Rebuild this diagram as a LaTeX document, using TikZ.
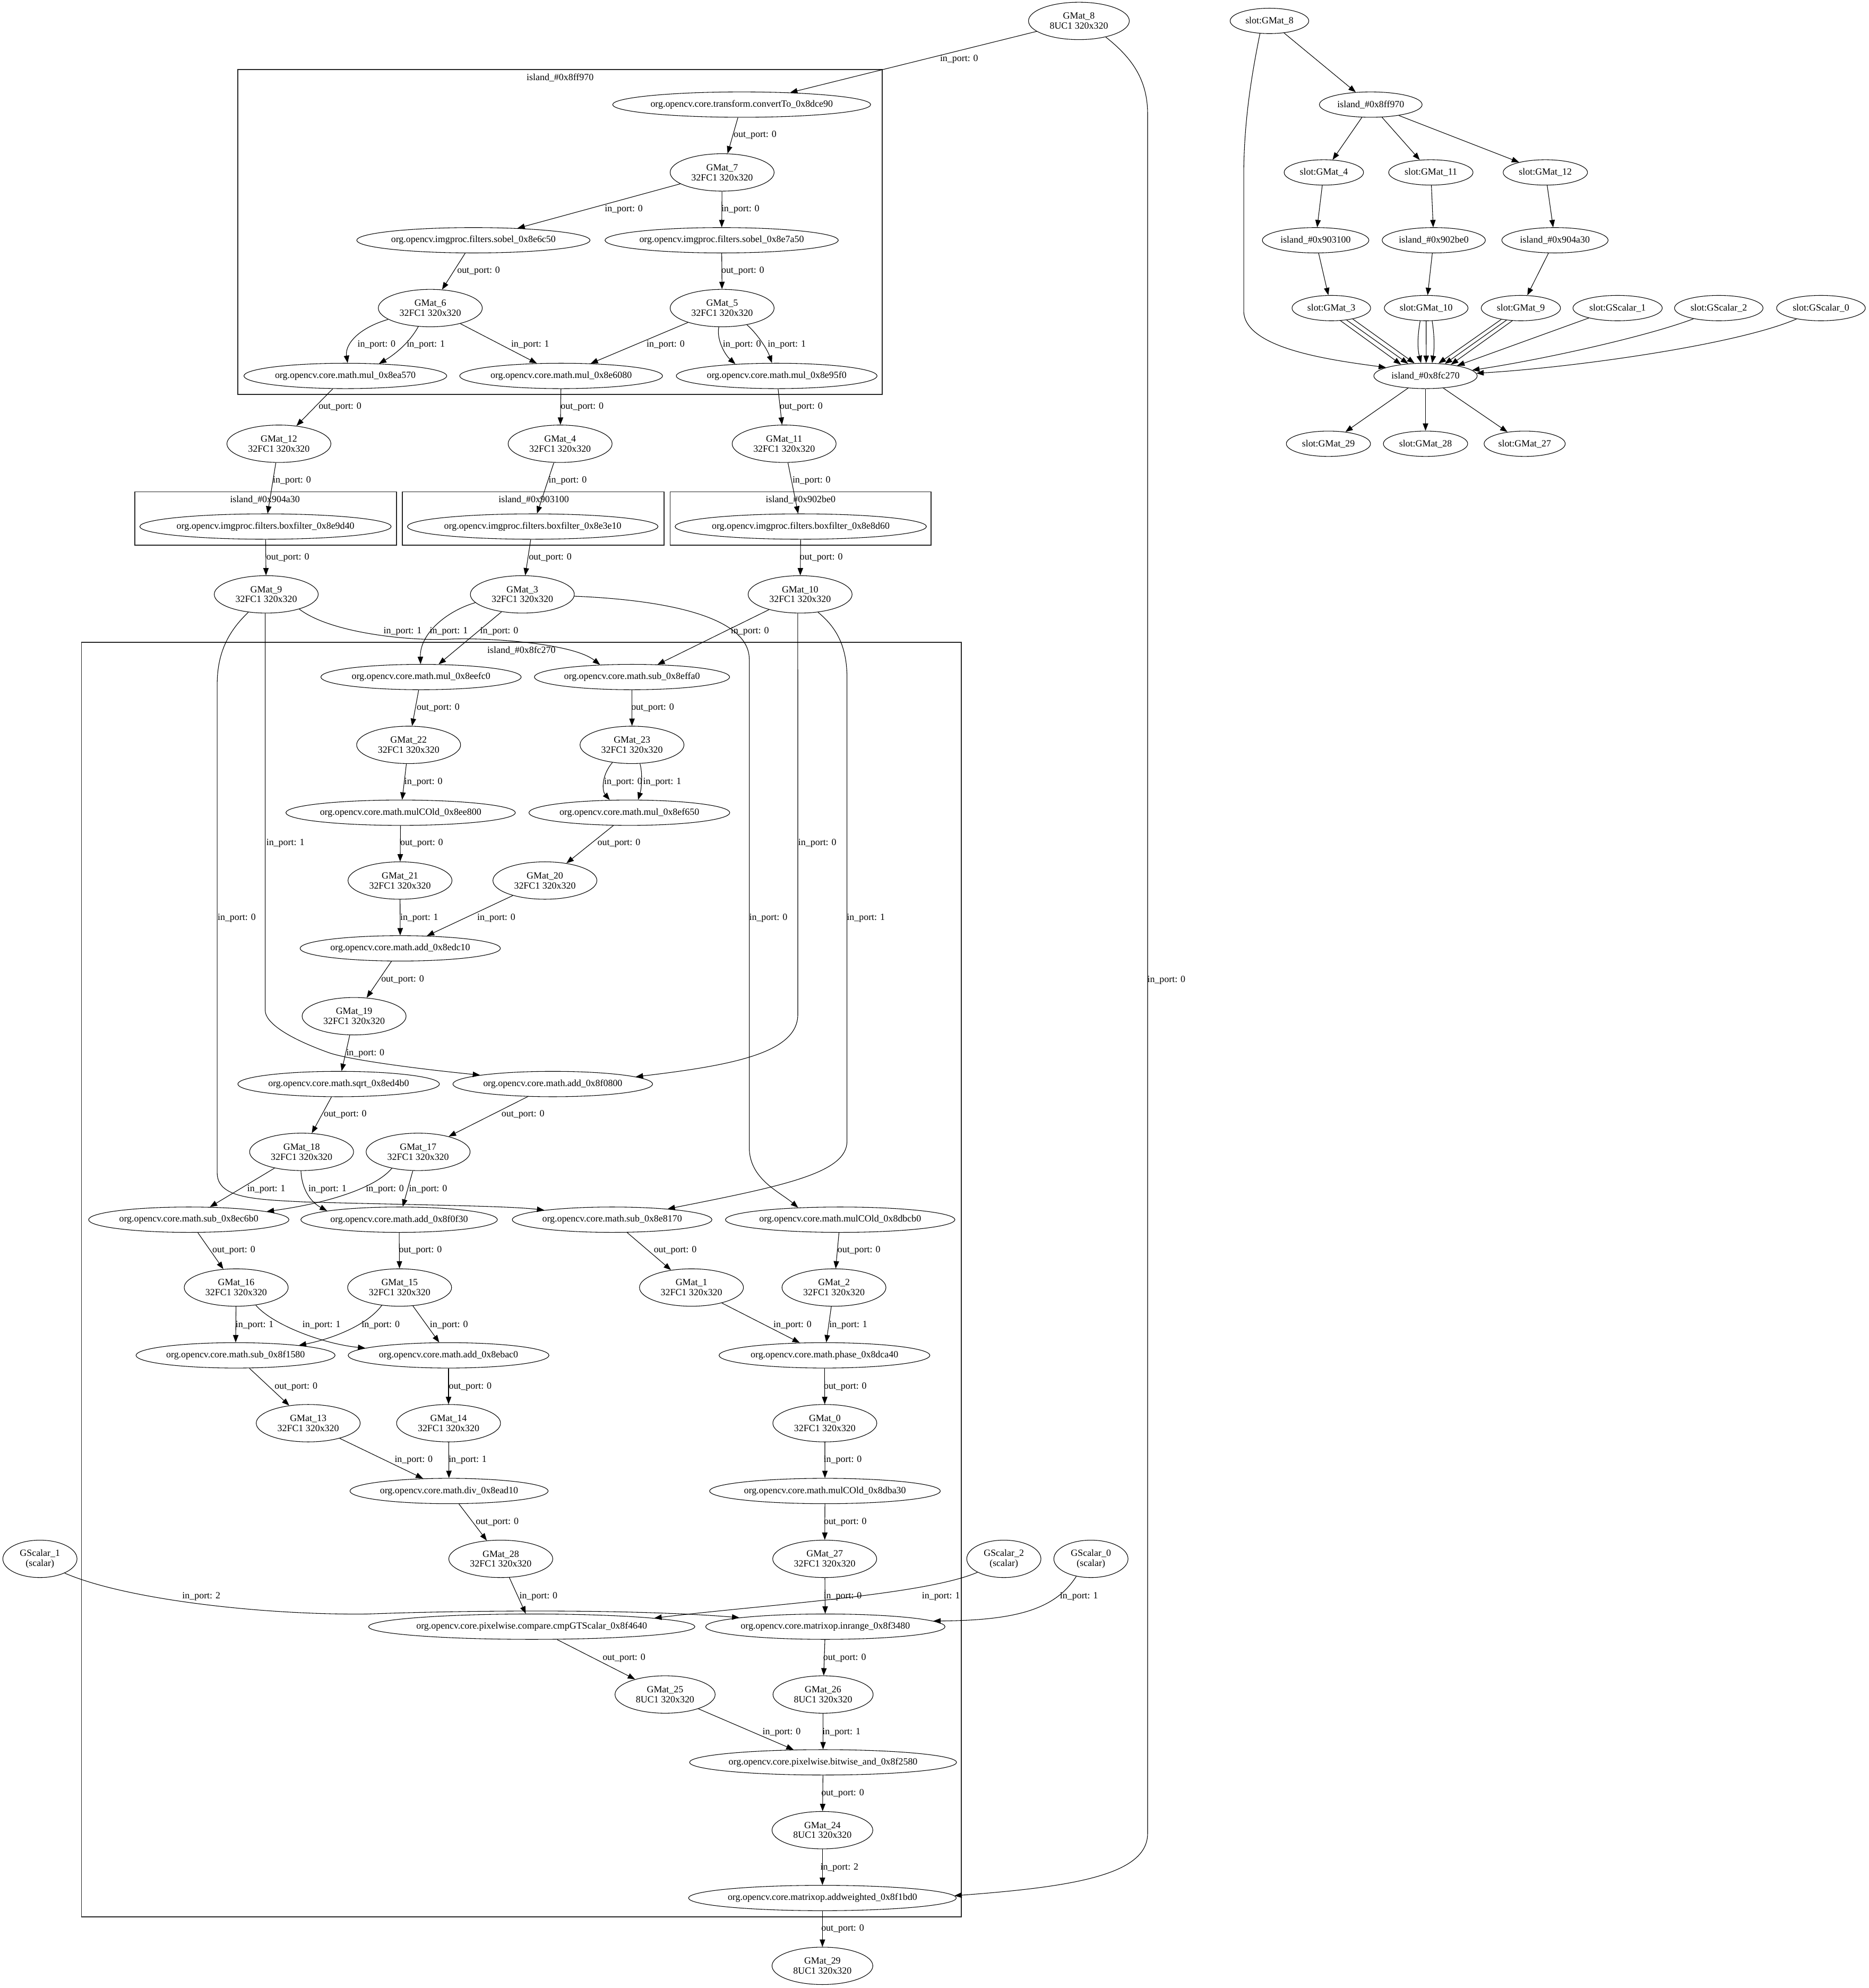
\documentclass[tikz,border=0pt]{standalone}
\usepackage{fontspec}
\setmainfont{Liberation Serif}
\usetikzlibrary{shapes.geometric,arrows.meta}
\newcommand{\myin}[1]{in\_port: #1}
\newcommand{\myout}[1]{out\_port: #1}
\tikzset{
  nd/.style={ellipse, draw, line width=0.45pt, inner sep=0pt, align=center},
  op/.style={nd, minimum height=20pt, minimum width=#1},
  gm/.style={nd, minimum height=29.5pt, minimum width=#1},
  lb/.style={inner sep=0pt},
  ed/.style={line width=0.45pt, -{Triangle[length=5.8pt,width=4.3pt]}},
  cl/.style={draw=black!85, line width=0.75pt},
}
\begin{document}
\begin{tikzpicture}[x=1pt,y=-1pt,font=\fontsize{7.5}{7.9}\selectfont]
\useasboundingbox (0,0) rectangle (1474,1568);
% clusters
\draw[cl] (187.6,55) rectangle (695.9,311.2);
\node[lb] (c1) at (441.8,61.4) {island\_\#0x8ff970};
\draw[cl] (106.4,387.9) rectangle (312.8,429.9);
\node[lb] (c2) at (209,394.3) {island\_\#0x904a30};
\draw[cl] (317.5,387.9) rectangle (523.9,429.9);
\node[lb] (c3) at (421,394.3) {island\_\#0x903100};
\draw[cl] (528.6,387.9) rectangle (734.5,429.9);
\node[lb] (c4) at (631.5,394.3) {island\_\#0x902be0};
\draw[cl] (64.3,506.7) rectangle (758.3,1512);
\node[lb] (c5) at (411.3,513) {island\_\#0x8fc270};

% nodes left graph
\node[gm=79.5] (g8) at (851,16.5) {GMat\_8\\8UC1 320x320};
\node[op=203.5] (cvt) at (585,82.5) {org.opencv.core.transform.convertTo\_0x8dce90};
\node[gm=82] (g7) at (569.6,136) {GMat\_7\\32FC1 320x320};
\node[op=184] (sbA) at (373.4,189.5) {org.opencv.imgproc.filters.sobel\_0x8e6c50};
\node[op=184] (sbB) at (569.2,189.5) {org.opencv.imgproc.filters.sobel\_0x8e7a50};
\node[gm=82] (g6) at (339.4,243) {GMat\_6\\32FC1 320x320};
\node[gm=82] (g5) at (569.6,243) {GMat\_5\\32FC1 320x320};
\node[op=160] (mlA) at (272.4,296.5) {org.opencv.core.math.mul\_0x8ea570};
\node[op=160] (mlB) at (442.6,296.5) {org.opencv.core.math.mul\_0x8e6080};
\node[op=158.4] (mlC) at (612.6,296.5) {org.opencv.core.math.mul\_0x8e95f0};
\node[gm=82] (g12) at (220,350) {GMat\_12\\32FC1 320x320};
\node[gm=82] (g4) at (441.8,350) {GMat\_4\\32FC1 320x320};
\node[gm=82] (g11) at (618.5,350) {GMat\_11\\32FC1 320x320};
\node[op=196.6] (bxA) at (209.4,415.3) {org.opencv.imgproc.filters.boxfilter\_0x8e9d40};
\node[op=197] (bxB) at (420.2,415.3) {org.opencv.imgproc.filters.boxfilter\_0x8e3e10};
\node[op=196.5] (bxC) at (631.6,415.3) {org.opencv.imgproc.filters.boxfilter\_0x8e8d60};
\node[gm=82] (g9) at (210,468.8) {GMat\_9\\32FC1 320x320};
\node[gm=82] (g3) at (412,468.8) {GMat\_3\\32FC1 320x320};
\node[gm=82] (g10) at (631.1,468.8) {GMat\_10\\32FC1 320x320};
\node[op=158] (mlD) at (332.1,534) {org.opencv.core.math.mul\_0x8eefc0};
\node[op=154] (sbtA) at (498.5,534) {org.opencv.core.math.sub\_0x8effa0};
\node[gm=82] (g22) at (322.3,587.5) {GMat\_22\\32FC1 320x320};
\node[gm=82] (g23) at (498.5,587.5) {GMat\_23\\32FC1 320x320};
\node[op=181] (mcA) at (316,641) {org.opencv.core.math.mulCOld\_0x8ee800};
\node[op=158.4] (mlE) at (496.4,641) {org.opencv.core.math.mul\_0x8ef650};
\node[gm=82] (g21) at (315.5,694.5) {GMat\_21\\32FC1 320x320};
\node[gm=82] (g20) at (429.8,694.5) {GMat\_20\\32FC1 320x320};
\node[op=158] (adA) at (315.7,748) {org.opencv.core.math.add\_0x8edc10};
\node[gm=82] (g19) at (279.3,801.5) {GMat\_19\\32FC1 320x320};
\node[op=159] (sqr) at (267.1,855) {org.opencv.core.math.sqrt\_0x8ed4b0};
\node[op=157.5] (adB) at (436,855) {org.opencv.core.math.add\_0x8f0800};
\node[gm=82] (g18) at (237.9,908.5) {GMat\_18\\32FC1 320x320};
\node[gm=82] (g17) at (329.8,908.5) {GMat\_17\\32FC1 320x320};
\node[op=158] (sbtB) at (148.9,962) {org.opencv.core.math.sub\_0x8ec6b0};
\node[op=155] (adC) at (314.8,962) {org.opencv.core.math.add\_0x8f0f30};
\node[op=157.5] (sbtC) at (482.8,962) {org.opencv.core.math.sub\_0x8e8170};
\node[op=181] (mcB) at (662.7,962) {org.opencv.core.math.mulCOld\_0x8dbcb0};
\node[gm=82] (g16) at (186.3,1015.5) {GMat\_16\\32FC1 320x320};
\node[gm=82] (g15) at (315.2,1015.5) {GMat\_15\\32FC1 320x320};
\node[gm=82] (g1) at (545.4,1015.5) {GMat\_1\\32FC1 320x320};
\node[gm=82] (g2) at (657.8,1015.5) {GMat\_2\\32FC1 320x320};
\node[op=157] (sbtD) at (185.8,1069) {org.opencv.core.math.sub\_0x8f1580};
\node[op=158.4] (adD) at (353.8,1069) {org.opencv.core.math.add\_0x8ebac0};
\node[op=166.3] (phs) at (650.3,1069) {org.opencv.core.math.phase\_0x8dca40};
\node[gm=82] (g13) at (243.1,1122.5) {GMat\_13\\32FC1 320x320};
\node[gm=82] (g14) at (353.8,1122.5) {GMat\_14\\32FC1 320x320};
\node[gm=82] (g0) at (650.6,1122.5) {GMat\_0\\32FC1 320x320};
\node[op=156.3] (dv) at (354.2,1176) {org.opencv.core.math.div\_0x8ead10};
\node[op=182] (mcC) at (650.7,1176) {org.opencv.core.math.mulCOld\_0x8dba30};
\node[gm=82] (g28) at (395,1229.5) {GMat\_28\\32FC1 320x320};
\node[gm=82] (g27) at (650.5,1229.5) {GMat\_27\\32FC1 320x320};
\node[gm=58.5] (gs1) at (31.5,1229.5) {GScalar\_1\\(scalar)};
\node[gm=58.5] (gs2) at (791.8,1229.5) {GScalar\_2\\(scalar)};
\node[gm=58.5] (gs0) at (860.5,1229.5) {GScalar\_0\\(scalar)};
\node[op=252] (cmp) at (419.4,1283) {org.opencv.core.pixelwise.compare.cmpGTScalar\_0x8f4640};
\node[op=187.5] (inr) at (651,1283) {org.opencv.core.matrixop.inrange\_0x8f3480};
\node[gm=79] (g25) at (524.6,1336.5) {GMat\_25\\8UC1 320x320};
\node[gm=79] (g26) at (649.2,1336.5) {GMat\_26\\8UC1 320x320};
\node[op=207.6] (bnd) at (649.2,1390) {org.opencv.core.pixelwise.bitwise\_and\_0x8f2580};
\node[gm=79.5] (g24) at (648.7,1443.5) {GMat\_24\\8UC1 320x320};
\node[op=208.6] (adw) at (648.7,1497) {org.opencv.core.matrixop.addweighted\_0x8f1bd0};
\node[gm=79.5] (g29) at (648.7,1550.5) {GMat\_29\\8UC1 320x320};

% edges left graph
\draw[ed] (g8) -- (cvt);
\draw[ed] (g8.-31) .. controls (892,45) and (905.2,62) .. (905.2,90) -- (905.2,1446) .. controls (905.2,1478) and (850,1488) .. (adw.1.5);
\draw[ed] (cvt) -- (g7);
\draw[ed] (g7) -- (sbA);
\draw[ed] (g7) -- (sbB);
\draw[ed] (sbA) -- (g6);
\draw[ed] (sbB) -- (g5);
\draw[ed] (g6.-165) .. controls (282,259) and (272,272) .. (mlA.80);
\draw[ed] (g6.-123) .. controls (322,272) and (309,281) .. (mlA.20);
\draw[ed] (g6) -- (mlB);
\draw[ed] (g5) -- (mlB);
\draw[ed] (g5.-100) .. controls (565,268) and (572,280) .. (mlC.164);
\draw[ed] (g5.-34) .. controls (597,263) and (605,275) .. (mlC.110);
\draw[ed] (mlA) -- (g12);
\draw[ed] (mlB) -- (g4);
\draw[ed] (mlC) -- (g11);
\draw[ed] (g12) -- (bxA);
\draw[ed] (g4) -- (bxB);
\draw[ed] (g11) -- (bxC);
\draw[ed] (bxA) -- (g9);
\draw[ed] (bxB) -- (g3);
\draw[ed] (bxC) -- (g10);
\draw[ed] (g9.-24) .. controls (261.5,500) and (327,506) .. (357,504) .. controls (387,503) and (452,507.5) .. (sbtA.159);
\draw[ed] (g3.-170) .. controls (352,482) and (331,500) .. (mlD.92);
\draw[ed] (g3.-140) -- (mlD.36);
\draw[ed] (g10) -- (sbtA);
\draw[ed] (g9.-93) -- (209.2,797) .. controls (209.2,806) and (225,818) .. (260,830.5) .. controls (275,835.5) and (320,842) .. (adB.173.5);
\draw[ed] (g10.-97) -- (629.3,800) .. controls (629.3,830) and (580,840) .. (adB.5);
\draw[ed] (g9.-135) .. controls (180,498) and (171.3,515) .. (171.3,540) -- (171.3,925) .. controls (171.3,945) and (200,946) .. (240,948) .. controls (330,950.5) and (400,951) .. (sbtC.172);
\draw[ed] (g10.-45) .. controls (660,495) and (668.1,510) .. (668.1,535) -- (668.1,900) .. controls (668.1,925) and (620,935) .. (sbtC.11);
\draw[ed] (g3.-2) .. controls (520,473) and (591,485) .. (591,520) -- (591,905) .. controls (591,930) and (615,940) .. (mcB.164);
\draw[ed] (mlD) -- (g22);
\draw[ed] (sbtA) -- (g23);
\draw[ed] (g22) -- (mcA);
\draw[ed] (g23.-138) .. controls (474,612) and (475,624) .. (mlE.147);
\draw[ed] (g23.-67) .. controls (507,610) and (506,622) .. (mlE.56);
\draw[ed] (mcA) -- (g21);
\draw[ed] (mlE) -- (g20);
\draw[ed] (g21) -- (adA);
\draw[ed] (g20) -- (adA);
\draw[ed] (adA) -- (g19);
\draw[ed] (g19) -- (sqr);
\draw[ed] (sqr) -- (g18);
\draw[ed] (adB) -- (g17);
\draw[ed] (g18) -- (sbtB);
\draw[ed] (g18.-92) .. controls (238,938) and (245,948) .. (adC.173);
\draw[ed] (g17.-148) .. controls (298,935) and (265,948) .. (sbtB.6);
\draw[ed] (g17) -- (adC);
\draw[ed] (sbtB) -- (g16);
\draw[ed] (adC) -- (g15);
\draw[ed] (sbtC) -- (g1);
\draw[ed] (mcB) -- (g2);
\draw[ed] (g16) -- (sbtD);
\draw[ed] (g16.-42) .. controls (215,1045) and (255,1060) .. (adD.175);
\draw[ed] (g15.-135) .. controls (290,1045) and (262,1056) .. (sbtD.9);
\draw[ed] (g15) -- (adD);
\draw[ed] (g1) -- (phs);
\draw[ed] (g2) -- (phs);
\draw[ed] (sbtD) -- (g13);
\draw[ed] (adD) -- (g14);
\draw[ed] (phs) -- (g0);
\draw[ed] (g13) -- (dv);
\draw[ed] (g14) -- (dv);
\draw[ed] (g0) -- (mcC);
\draw[ed] (dv) -- (g28);
\draw[ed] (mcC) -- (g27);
\draw[ed] (gs1.-30) .. controls (100,1262) and (210,1274) .. (290,1273) .. controls (370,1270) and (500,1269) .. (inr.174);
\draw[ed] (g28) -- (cmp);
\draw[ed] (g27) -- (inr);
\draw[ed] (gs2.-153) .. controls (730,1258) and (600,1266) .. (cmp.4.4);
\draw[ed] (gs0.-130) .. controls (832,1270) and (800,1278) .. (inr.3.4);
\draw[ed] (cmp) -- (g25);
\draw[ed] (inr) -- (g26);
\draw[ed] (g25) -- (bnd);
\draw[ed] (g26) -- (bnd);
\draw[ed] (bnd) -- (g24);
\draw[ed] (g24) -- (adw);
\draw[ed] (adw) -- (g29);

% edge labels
\node[lb] (l1) at (756.5,46.8) {\myin{0}};
\node[lb] (l2) at (920,773) {\myin{0}};
\node[lb] (l3) at (595.6,106.7) {\myout{0}};
\node[lb] (l4) at (492,165) {\myin{0}};
\node[lb] (l5) at (584,165) {\myin{0}};
\node[lb] (l6) at (377.5,213.7) {\myout{0}};
\node[lb] (l7) at (585.9,213.7) {\myout{0}};
\node[lb] (l8) at (297,272) {\myin{0}};
\node[lb] (l9) at (335.9,272) {\myin{1}};
\node[lb] (l10) at (418.2,272) {\myin{1}};
\node[lb] (l11) at (525,272) {\myin{0}};
\node[lb] (l12) at (585.2,272) {\myin{0}};
\node[lb] (l13) at (620.6,272) {\myin{1}};
\node[lb] (l14) at (268.2,320.8) {\myout{0}};
\node[lb] (l15) at (459.2,320.8) {\myout{0}};
\node[lb] (l16) at (632,320.8) {\myout{0}};
\node[lb] (l17) at (230.3,379.2) {\myin{0}};
\node[lb] (l18) at (447.8,379.2) {\myin{0}};
\node[lb] (l19) at (640.1,379.2) {\myin{0}};
\node[lb] (l20) at (227,439.7) {\myout{0}};
\node[lb] (l21) at (434,439.7) {\myout{0}};
\node[lb] (l22) at (647.8,439.7) {\myout{0}};
\node[lb] (l23) at (317.6,498) {\myin{1}};
\node[lb] (l24) at (354,498) {\myin{1}};
\node[lb] (l25) at (393.8,498) {\myin{0}};
\node[lb] (l26) at (591.5,498) {\myin{0}};
\node[lb] (l27) at (345.6,558.2) {\myout{0}};
\node[lb] (l28) at (514.8,558.2) {\myout{0}};
\node[lb] (l29) at (334,616.8) {\myin{0}};
\node[lb] (l30) at (491.5,616.8) {\myin{0}};
\node[lb] (l31) at (522.3,616.8) {\myin{1}};
\node[lb] (l32) at (332.6,665) {\myout{0}};
\node[lb] (l33) at (488.2,665) {\myout{0}};
\node[lb] (l34) at (225.1,665) {\myin{1}};
\node[lb] (l35) at (644.7,665) {\myin{0}};
\node[lb] (l36) at (186.7,724) {\myin{0}};
\node[lb] (l37) at (330.7,724) {\myin{1}};
\node[lb] (l38) at (391.5,724) {\myin{0}};
\node[lb] (l39) at (606,724) {\myin{0}};
\node[lb] (l40) at (683,724) {\myin{1}};
\node[lb] (l41) at (317.6,772.5) {\myout{0}};
\node[lb] (l42) at (288.2,830.7) {\myin{0}};
\node[lb] (l43) at (272.3,879.1) {\myout{0}};
\node[lb] (l44) at (412.5,879.1) {\myout{0}};
\node[lb] (l45) at (210.1,937.9) {\myin{1}};
\node[lb] (l46) at (258.3,937.9) {\myin{1}};
\node[lb] (l47) at (303.6,937.9) {\myin{0}};
\node[lb] (l48) at (337.7,937.9) {\myin{0}};
\node[lb] (l49) at (184.4,986.4) {\myout{0}};
\node[lb] (l50) at (331.6,986.4) {\myout{0}};
\node[lb] (l51) at (532.6,986.4) {\myout{0}};
\node[lb] (l52) at (677.5,986.4) {\myout{0}};
\node[lb] (l53) at (200.8,1045.2) {\myin{1}};
\node[lb] (l54) at (253.6,1045.2) {\myin{1}};
\node[lb] (l55) at (300.3,1045.2) {\myin{0}};
\node[lb] (l56) at (354.1,1045.2) {\myin{0}};
\node[lb] (l57) at (625.1,1045.2) {\myin{0}};
\node[lb] (l58) at (669.1,1045.2) {\myin{1}};
\node[lb] (l59) at (233.5,1093.7) {\myout{0}};
\node[lb] (l60) at (370.9,1093.7) {\myout{0}};
\node[lb] (l61) at (666.7,1093.7) {\myout{0}};
\node[lb] (l62) at (326.3,1151.5) {\myin{0}};
\node[lb] (l63) at (368.9,1151.5) {\myin{1}};
\node[lb] (l64) at (664.7,1151.5) {\myin{0}};
\node[lb] (l65) at (392.2,1200.4) {\myout{0}};
\node[lb] (l66) at (666.7,1200.4) {\myout{0}};
\node[lb] (l67) at (158.8,1259.3) {\myin{2}};
\node[lb] (l68) at (424.7,1259.3) {\myin{0}};
\node[lb] (l69) at (664.7,1259.3) {\myin{0}};
\node[lb] (l70) at (742.2,1259) {\myin{1}};
\node[lb] (l71) at (851.1,1259) {\myin{1}};
\node[lb] (l72) at (492.2,1307.8) {\myout{0}};
\node[lb] (l73) at (666.2,1307.8) {\myout{0}};
\node[lb] (l74) at (616.5,1366.4) {\myin{0}};
\node[lb] (l75) at (663.7,1366.4) {\myin{1}};
\node[lb] (l76) at (664.7,1414.7) {\myout{0}};
\node[lb] (l77) at (662.1,1473) {\myin{2}};
\node[lb] (l78) at (664.7,1521.3) {\myout{0}};

% right graph
\node[op=62] (s8) at (1001.3,16.5) {slot:GMat\_8};
\node[op=81] (i970) at (1081.2,82.5) {island\_\#0x8ff970};
\node[op=62.6] (s4) at (1044.2,136) {slot:GMat\_4};
\node[op=66.5] (s11) at (1128.6,136) {slot:GMat\_11};
\node[op=66.5] (s12) at (1218.9,136) {slot:GMat\_12};
\node[op=84] (i100) at (1037.7,189.5) {island\_\#0x903100};
\node[op=81.4] (ibe0) at (1130.9,189.5) {island\_\#0x902be0};
\node[op=83.8] (ia30) at (1226.5,189.5) {island\_\#0x904a30};
\node[op=62] (s3) at (1050.1,243) {slot:GMat\_3};
\node[op=66] (s10) at (1124.9,243) {slot:GMat\_10};
\node[op=62.5] (s9) at (1199.6,243) {slot:GMat\_9};
\node[op=70.4] (sg1) at (1275.9,243) {slot:GScalar\_1};
\node[op=69.8] (sg2) at (1355.7,243) {slot:GScalar\_2};
\node[op=70] (sg0) at (1436.3,243) {slot:GScalar\_0};
\node[op=81.5] (i270) at (1124.4,296.5) {island\_\#0x8fc270};
\node[op=66.4] (s29) at (1047.8,350) {slot:GMat\_29};
\node[op=66.5] (s28) at (1124.4,350) {slot:GMat\_28};
\node[op=64] (s27) at (1202.6,350) {slot:GMat\_27};

\draw[ed] (s8) -- (i970);
\draw[ed] (s8.-127) .. controls (986,65) and (981,100) .. (981,140) -- (981,245) .. controls (981,275) and (1050,284) .. (i270.168);
\draw[ed] (i970) -- (s4);
\draw[ed] (i970) -- (s11);
\draw[ed] (i970) -- (s12);
\draw[ed] (s4) -- (i100);
\draw[ed] (s11) -- (ibe0);
\draw[ed] (s12) -- (ia30);
\draw[ed] (i100) -- (s3);
\draw[ed] (ibe0) -- (s10);
\draw[ed] (ia30) -- (s9);
\draw[ed] (s3.-54) -- (i270.155);
\draw[ed] (s3.-38) -- (i270.145);
\draw[ed] (s3.-27) -- (i270.131);
\draw[ed] (s10.-115) .. controls (1118,265) and (1118,275) .. (i270.109);
\draw[ed] (s10.-90) -- (i270.87);
\draw[ed] (s10.-65) .. controls (1131.5,265) and (1131.5,275) .. (i270.63);
\draw[ed] (s9.-150) -- (i270.44);
\draw[ed] (s9.-140) -- (i270.32);
\draw[ed] (s9.-124) -- (i270.24);
\draw[ed] (sg1.-161) -- (i270.18);
\draw[ed] (sg2.-157) .. controls (1300,265) and (1220,283) .. (i270.7.6);
\draw[ed] (sg0.-156) .. controls (1370,272) and (1240,290) .. (i270.3);
\draw[ed] (i270) -- (s29);
\draw[ed] (i270) -- (s28);
\draw[ed] (i270) -- (s27);
\end{tikzpicture}
\end{document}
